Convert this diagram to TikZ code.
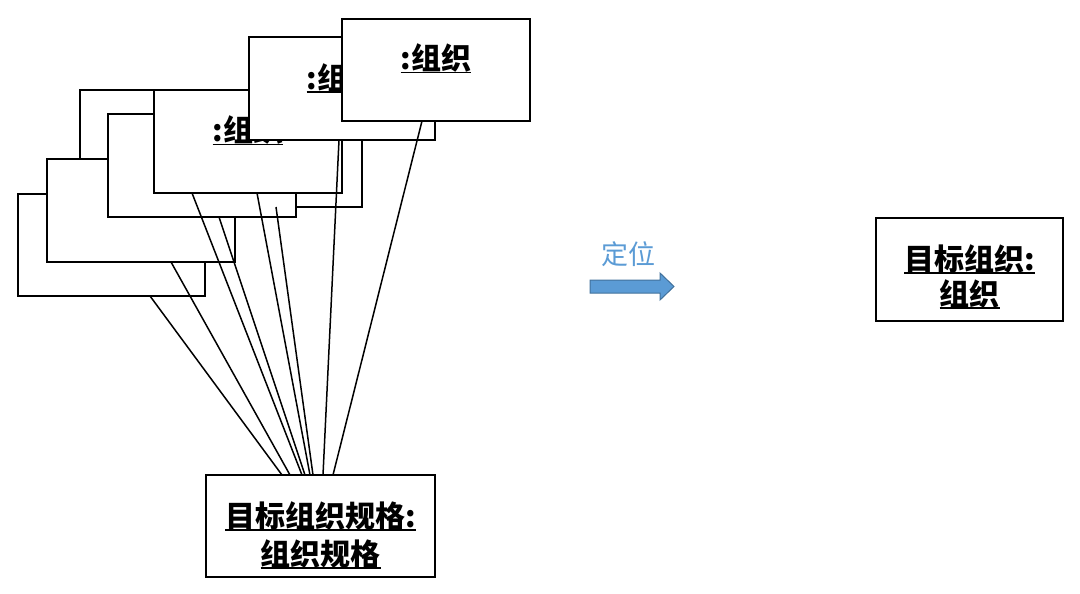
\documentclass[tikz,border=0pt]{standalone}
\usepackage{fontspec}
\newfontfamily\cjk{Noto Sans CJK SC}
\definecolor{arrowfill}{HTML}{5B9BD5}
\definecolor{arrowedge}{HTML}{41719C}
\definecolor{labelblue}{HTML}{5B9BD5}
\newcommand\myul[1]{\setbox0\hbox{#1}\rlap{\rule[-3.5pt]{\wd0}{1.6pt}}\box0}
\begin{document}
\begin{tikzpicture}[x=1pt,y=-1pt,
  objbox/.style={draw=black, fill=white, line width=1.4pt, anchor=north west, inner sep=0pt, outer sep=0pt},
  objtext/.style={font=\cjk\bfseries\fontsize{30}{34}\selectfont, anchor=base, inner sep=0pt},
  link/.style={draw=black, line width=1.5pt}]
\useasboundingbox (0,0) rectangle (1080,594);
% stacked object boxes (back to front)
\node[objbox, minimum width=187, minimum height=102] (A) at (18,194) {};
\node[objbox, minimum width=282, minimum height=117] (C) at (80,90) {};
\node[objbox, minimum width=188, minimum height=103] (B) at (47,159) {};
\node[objbox, minimum width=188, minimum height=103] (D) at (108,114) {};
\node[objbox, minimum width=188, minimum height=103] (E) at (154,90) {};
\node[objtext] (Et) at (248,142) {\myul{:组织}};
\node[objbox, minimum width=186, minimum height=103] (F) at (249,37) {};
\node[objtext] (Ft) at (342,89) {\myul{:组织}};
\node[objbox, minimum width=188, minimum height=102] (G) at (342,19) {};
\node[objtext] (Gt) at (436,70) {\myul{:组织}};
% specification box
\node[objbox, minimum width=229, minimum height=102] (S) at (206,475) {};
\node[objtext] (S1) at (320.5,527) {\myul{目标组织规格:}};
\node[objtext] (S2) at (320.5,565) {\myul{组织规格}};
% links
\draw[link] ([xshift=132]A.south west) -- ([xshift=76]S.north west);
\draw[link] ([xshift=124]B.south west) -- ([xshift=84]S.north west);
\draw[link] ([xshift=38]E.south west) -- ([xshift=96]S.north west);
\draw[link] ([xshift=111]D.south west) -- ([xshift=99]S.north west);
\draw[link] ([xshift=103]E.south west) -- ([xshift=104]S.north west);
\draw[link] ([xshift=196]C.south west) -- ([xshift=107]S.north west);
\draw[link] ([xshift=90]F.south west) -- ([xshift=117]S.north west);
\draw[link] ([xshift=80]G.south west) -- ([xshift=127]S.north west);
% arrow and label
\node[font=\cjk\fontsize{27}{30}\selectfont, text=labelblue, anchor=base, inner sep=0pt] (lbl) at (628,264) {定位};
\draw[fill=arrowfill, draw=arrowedge, line width=1pt, line join=miter]
  (590,280) -- (660,280) -- (660,273) -- (674,286.5) -- (660,300) -- (660,293) -- (590,293) -- cycle;
% target box
\node[objbox, minimum width=187, minimum height=103] (R) at (876,218) {};
\node[objtext] (R1) at (969.5,270) {\myul{目标组织:}};
\node[objtext] (R2) at (969.5,305) {\myul{组织}};
\end{tikzpicture}
\end{document}
